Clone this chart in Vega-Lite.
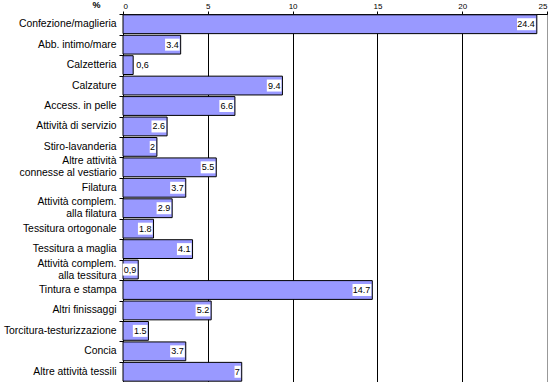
{
  "$schema": "https://vega.github.io/schema/vega-lite/v6.json",
  "width": 424,
  "height": 368,
  "autosize": {"type": "none"},
  "padding": {"left": 123, "top": 14, "right": 3, "bottom": 0},
  "background": "white",
  "config": {
    "font": "Liberation Sans",
    "view": {"stroke": "black", "strokeWidth": 1}
  },
  "data": {
    "values": [
      {"cat": "Confezione/maglieria", "value": 24.4, "label": "24.4"},
      {"cat": "Abb. intimo/mare", "value": 3.4, "label": "3.4"},
      {"cat": "Calzetteria", "value": 0.6, "label": "0,6"},
      {"cat": "Calzature", "value": 9.4, "label": "9.4"},
      {"cat": "Access. in pelle", "value": 6.6, "label": "6.6"},
      {"cat": "Attività di servizio", "value": 2.6, "label": "2.6"},
      {"cat": "Stiro-lavanderia", "value": 2, "label": "2"},
      {"cat": "Altre attività|connesse al vestiario", "value": 5.5, "label": "5.5"},
      {"cat": "Filatura", "value": 3.7, "label": "3.7"},
      {"cat": "Attività complem.|alla filatura", "value": 2.9, "label": "2.9"},
      {"cat": "Tessitura ortogonale", "value": 1.8, "label": "1.8"},
      {"cat": "Tessitura a maglia", "value": 4.1, "label": "4.1"},
      {"cat": "Attività complem.|alla tessitura", "value": 0.9, "label": "0,9"},
      {"cat": "Tintura e stampa", "value": 14.7, "label": "14.7"},
      {"cat": "Altri finissaggi", "value": 5.2, "label": "5.2"},
      {"cat": "Torcitura-testurizzazione", "value": 1.5, "label": "1.5"},
      {"cat": "Concia", "value": 3.7, "label": "3.7"},
      {"cat": "Altre attività tessili", "value": 7, "label": "7"}
    ]
  },
  "encoding": {
    "y": {
      "field": "cat",
      "type": "nominal",
      "sort": null,
      "scale": {"paddingInner": 0.08, "paddingOuter": 0.04},
      "axis": {
        "title": null,
        "labelExpr": "split(datum.label, '|')",
        "labelFontSize": 10.4,
        "labelColor": "black",
        "labelPadding": 3,
        "labelLimit": 200,
        "labelLineHeight": 12,
        "labelOffset": {"condition": {"test": "indexof(datum.label, '|') >= 0", "value": -6}, "value": 0},
        "domainColor": "black",
        "tickColor": "black",
        "tickSize": 4,
        "bandPosition": 0,
        "grid": false
      }
    }
  },
  "layer": [
    {
      "mark": {"type": "bar", "fill": "#9999FF", "stroke": "black", "strokeWidth": 1},
      "encoding": {
        "x": {
          "field": "value",
          "type": "quantitative",
          "scale": {"domain": [0, 25], "nice": false},
          "axis": {
            "orient": "top",
            "values": [0, 5, 10, 15, 20, 25],
            "grid": true,
            "gridColor": {"condition": {"test": "datum.value == 25", "value": "#999999"}, "value": "black"},
            "gridOpacity": 1,
            "domainColor": "black",
            "tickColor": "black",
            "tickSize": 3,
            "labelFontSize": 8,
            "labelColor": "black",
            "labelPadding": 1,
            "title": "%",
            "titleFontSize": 9,
            "titleFontWeight": "bold",
            "titleColor": "black",
            "titleAngle": 0,
            "titleAnchor": "start",
            "titleAlign": "center",
            "titleX": -27,
            "titleY": -5,
            "titleBaseline": "bottom"
          }
        }
      }
    },
    {
      "mark": {
        "type": "bar",
        "fill": "white",
        "size": 12,
        "xOffset": {"expr": "datum.value < 0.7 ? 2 : -(length(datum.label) * 4.2 + 3)"},
        "x2Offset": {"expr": "datum.value < 0.7 ? (length(datum.label) * 4.2 + 4) : -1"}
      },
      "encoding": {
        "x": {"field": "value", "type": "quantitative"},
        "x2": {"field": "value"}
      }
    },
    {
      "mark": {
        "type": "text",
        "fontSize": 9,
        "color": "black",
        "baseline": "middle",
        "align": {"expr": "datum.value < 0.7 ? 'left' : 'right'"},
        "dx": {"expr": "datum.value < 0.7 ? 3 : -2"}
      },
      "encoding": {
        "x": {"field": "value", "type": "quantitative"},
        "text": {"field": "label"}
      }
    }
  ]
}
